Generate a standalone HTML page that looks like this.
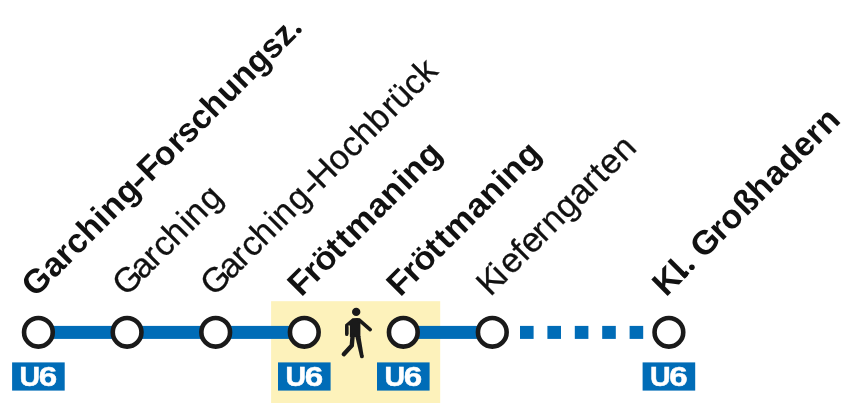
<!DOCTYPE html>
<html><head><meta charset="utf-8"><style>
html,body{margin:0;padding:0;background:#fff;}
body{width:852px;height:403px;overflow:hidden;}
svg{display:block;will-change:transform;}
text{font-family:"Liberation Sans",sans-serif;font-size:33.0px;fill:#111;stroke:#fff;}
</style></head><body>
<svg width="852" height="403" viewBox="0 0 852 403">
<rect x="271.1" y="301.2" width="169.1" height="102" fill="#fdf2bb"/>
<rect x="38.4" y="325.9" width="265.9" height="13" fill="#006cb7"/>
<rect x="403.3" y="325.9" width="89" height="13" fill="#006cb7"/>
<rect x="520.0" y="325.9" width="13.6" height="13" fill="#006cb7"/>
<rect x="547.4" y="325.9" width="13.6" height="13" fill="#006cb7"/>
<rect x="574.8" y="325.9" width="13.6" height="13" fill="#006cb7"/>
<rect x="602.2" y="325.9" width="13.6" height="13" fill="#006cb7"/>
<rect x="629.6" y="325.9" width="13.6" height="13" fill="#006cb7"/>
<circle cx="38.4" cy="332.3" r="14.35" fill="#fff" stroke="#1a1a1a" stroke-width="4.6"/>
<circle cx="127.1" cy="332.3" r="14.35" fill="#fff" stroke="#1a1a1a" stroke-width="4.6"/>
<circle cx="215.7" cy="332.3" r="14.35" fill="#fff" stroke="#1a1a1a" stroke-width="4.6"/>
<circle cx="304.3" cy="332.3" r="14.35" fill="#fff" stroke="#1a1a1a" stroke-width="4.6"/>
<circle cx="403.3" cy="332.3" r="14.35" fill="#fff" stroke="#1a1a1a" stroke-width="4.6"/>
<circle cx="492.3" cy="332.3" r="14.35" fill="#fff" stroke="#1a1a1a" stroke-width="4.6"/>
<circle cx="668.9" cy="332.3" r="14.35" fill="#fff" stroke="#1a1a1a" stroke-width="4.6"/>
<rect x="12.1" y="362.4" width="52.6" height="28.2" fill="#006cb7"/>
<text transform="translate(19.54 385.6) scale(1.0529 1)" font-weight="bold" style="font-size:27.1px;fill:#fff;stroke:#fff;stroke-width:0.5px">U</text>
<text transform="translate(38.74 385.6) scale(1.2214 1)" font-weight="bold" style="font-size:27.1px;fill:#fff;stroke:#fff;stroke-width:0.5px">6</text>
<rect x="278.0" y="362.4" width="52.6" height="28.2" fill="#006cb7"/>
<text transform="translate(285.44 385.6) scale(1.0529 1)" font-weight="bold" style="font-size:27.1px;fill:#fff;stroke:#fff;stroke-width:0.5px">U</text>
<text transform="translate(304.64 385.6) scale(1.2214 1)" font-weight="bold" style="font-size:27.1px;fill:#fff;stroke:#fff;stroke-width:0.5px">6</text>
<rect x="377.0" y="362.4" width="52.6" height="28.2" fill="#006cb7"/>
<text transform="translate(384.44 385.6) scale(1.0529 1)" font-weight="bold" style="font-size:27.1px;fill:#fff;stroke:#fff;stroke-width:0.5px">U</text>
<text transform="translate(403.64 385.6) scale(1.2214 1)" font-weight="bold" style="font-size:27.1px;fill:#fff;stroke:#fff;stroke-width:0.5px">6</text>
<rect x="642.6" y="362.4" width="52.6" height="28.2" fill="#006cb7"/>
<text transform="translate(650.04 385.6) scale(1.0529 1)" font-weight="bold" style="font-size:27.1px;fill:#fff;stroke:#fff;stroke-width:0.5px">U</text>
<text transform="translate(669.24 385.6) scale(1.2214 1)" font-weight="bold" style="font-size:27.1px;fill:#fff;stroke:#fff;stroke-width:0.5px">6</text>
<g fill="#1a1a1a" stroke="#1a1a1a" stroke-linecap="round" stroke-linejoin="round">
<circle cx="356.2" cy="311.9" r="4.2" stroke="none"/>
<path d="M345.1 324.6 L352.5 318.3 L357.6 318.1 L360.4 320.5 L360.4 337 L349.9 337 L349.9 325.6 L348.4 325.6 L348.4 334 L345.1 334 Z" stroke="none"/>
<path d="M346.75 327 L346.75 334.4" stroke-width="3.3" fill="none"/>
<path d="M359 319.8 L370.2 329.6" stroke-width="3.6" fill="none"/>
<path d="M352.6 336 L351.8 345.5 L343.8 354.2" stroke-width="4.4" fill="none"/>
<path d="M355.3 336.5 L360.4 336 L363.7 356.2 L360.1 357 Z" stroke="none"/>
<path d="M361.9 356.3 L361.9 356.4" stroke-width="3.7" fill="none"/>
</g>
<text transform="translate(36.76 296.74) rotate(-45) scale(1.0125 1)" x="-2.10 24.60 43.08 56.15 74.91 95.71 105.40 126.27" font-weight="bold" style="font-size:33.6px;stroke:none">Garching</text>
<text transform="translate(140.57 192.93) rotate(-45) scale(1.2764 1)" x="0.00" font-weight="bold" style="font-size:33.6px;stroke:none">-</text>
<text transform="translate(151.03 182.47) rotate(-45) scale(0.9906 1)" x="-0.50 18.95 40.69 53.05 71.74 90.43 111.31 132.19 152.71 173.59 192.28" font-weight="bold" style="font-size:33.6px;stroke:none">Forschungsz</text>
<text transform="translate(126.53 296.97) rotate(-45) scale(0.9957 1)" x="-0.57 23.56 41.98 54.15 70.99 91.90 99.54 119.88" font-weight="normal" style="font-size:34.4px;stroke:#111;stroke-width:0.30px">Garching</text>
<text transform="translate(214.53 296.97) rotate(-45) scale(0.9957 1)" x="-0.57 23.56 41.98 54.15 70.99 91.90 99.54 119.88" font-weight="normal" style="font-size:34.4px;stroke:#111;stroke-width:0.30px">Garching</text>
<text transform="translate(312.89 199.11) rotate(-45) scale(1.2545 1)" x="0.00" font-weight="normal" style="font-size:34.4px;stroke:#111;stroke-width:0.30px">-</text>
<text transform="translate(322.90 189.10) rotate(-45) scale(1.0021 1)" x="-1.55 22.58 42.21 59.62 79.25 99.93 110.89 130.02 147.22" font-weight="normal" style="font-size:34.4px;stroke:#111;stroke-width:0.30px">Hochbrück</text>
<text transform="translate(301.77 297.23) rotate(-45) scale(1.0255 1)" x="-0.69 18.94 31.74 51.37 64.14 75.81 106.03 124.72 145.93 154.92 175.45" font-weight="bold" style="font-size:33.6px;stroke:none">Fröttmaning</text>
<text transform="translate(400.77 297.23) rotate(-45) scale(1.0255 1)" x="-0.69 18.94 31.74 51.37 64.14 75.81 106.03 124.72 145.93 154.92 175.45" font-weight="bold" style="font-size:33.6px;stroke:none">Fröttmaning</text>
<text transform="translate(490.74 296.76) rotate(-45) scale(1.0090 1)" x="-0.70 19.09 29.05 48.11 57.87 75.25 87.76 106.89 126.02 145.16 157.66 167.92 187.40" font-weight="normal" style="font-size:34.4px;stroke:#111;stroke-width:0.30px">Kieferngarten</text>
<text transform="translate(666.74 296.76) rotate(-45) scale(1.0135 1)" x="-1.05 22.66 42.94 51.71 76.80 89.39 110.96 130.79 152.01 171.04 191.57 210.25 224.03" font-weight="bold" style="font-size:33.6px;stroke:none">Kl Großhadern</text>
<path transform="translate(666.74 296.76) rotate(-45) scale(1.0135 1)" d="M27.31 -7 L27.31 -2.2 L31.91 -2.7" fill="none" stroke="#111" stroke-width="4.4" stroke-linejoin="round"/>
<circle cx="298.8" cy="30.5" r="2.8" fill="#111"/><circle cx="691.9" cy="267.2" r="2.8" fill="#111"/>
</svg>
</body></html>
